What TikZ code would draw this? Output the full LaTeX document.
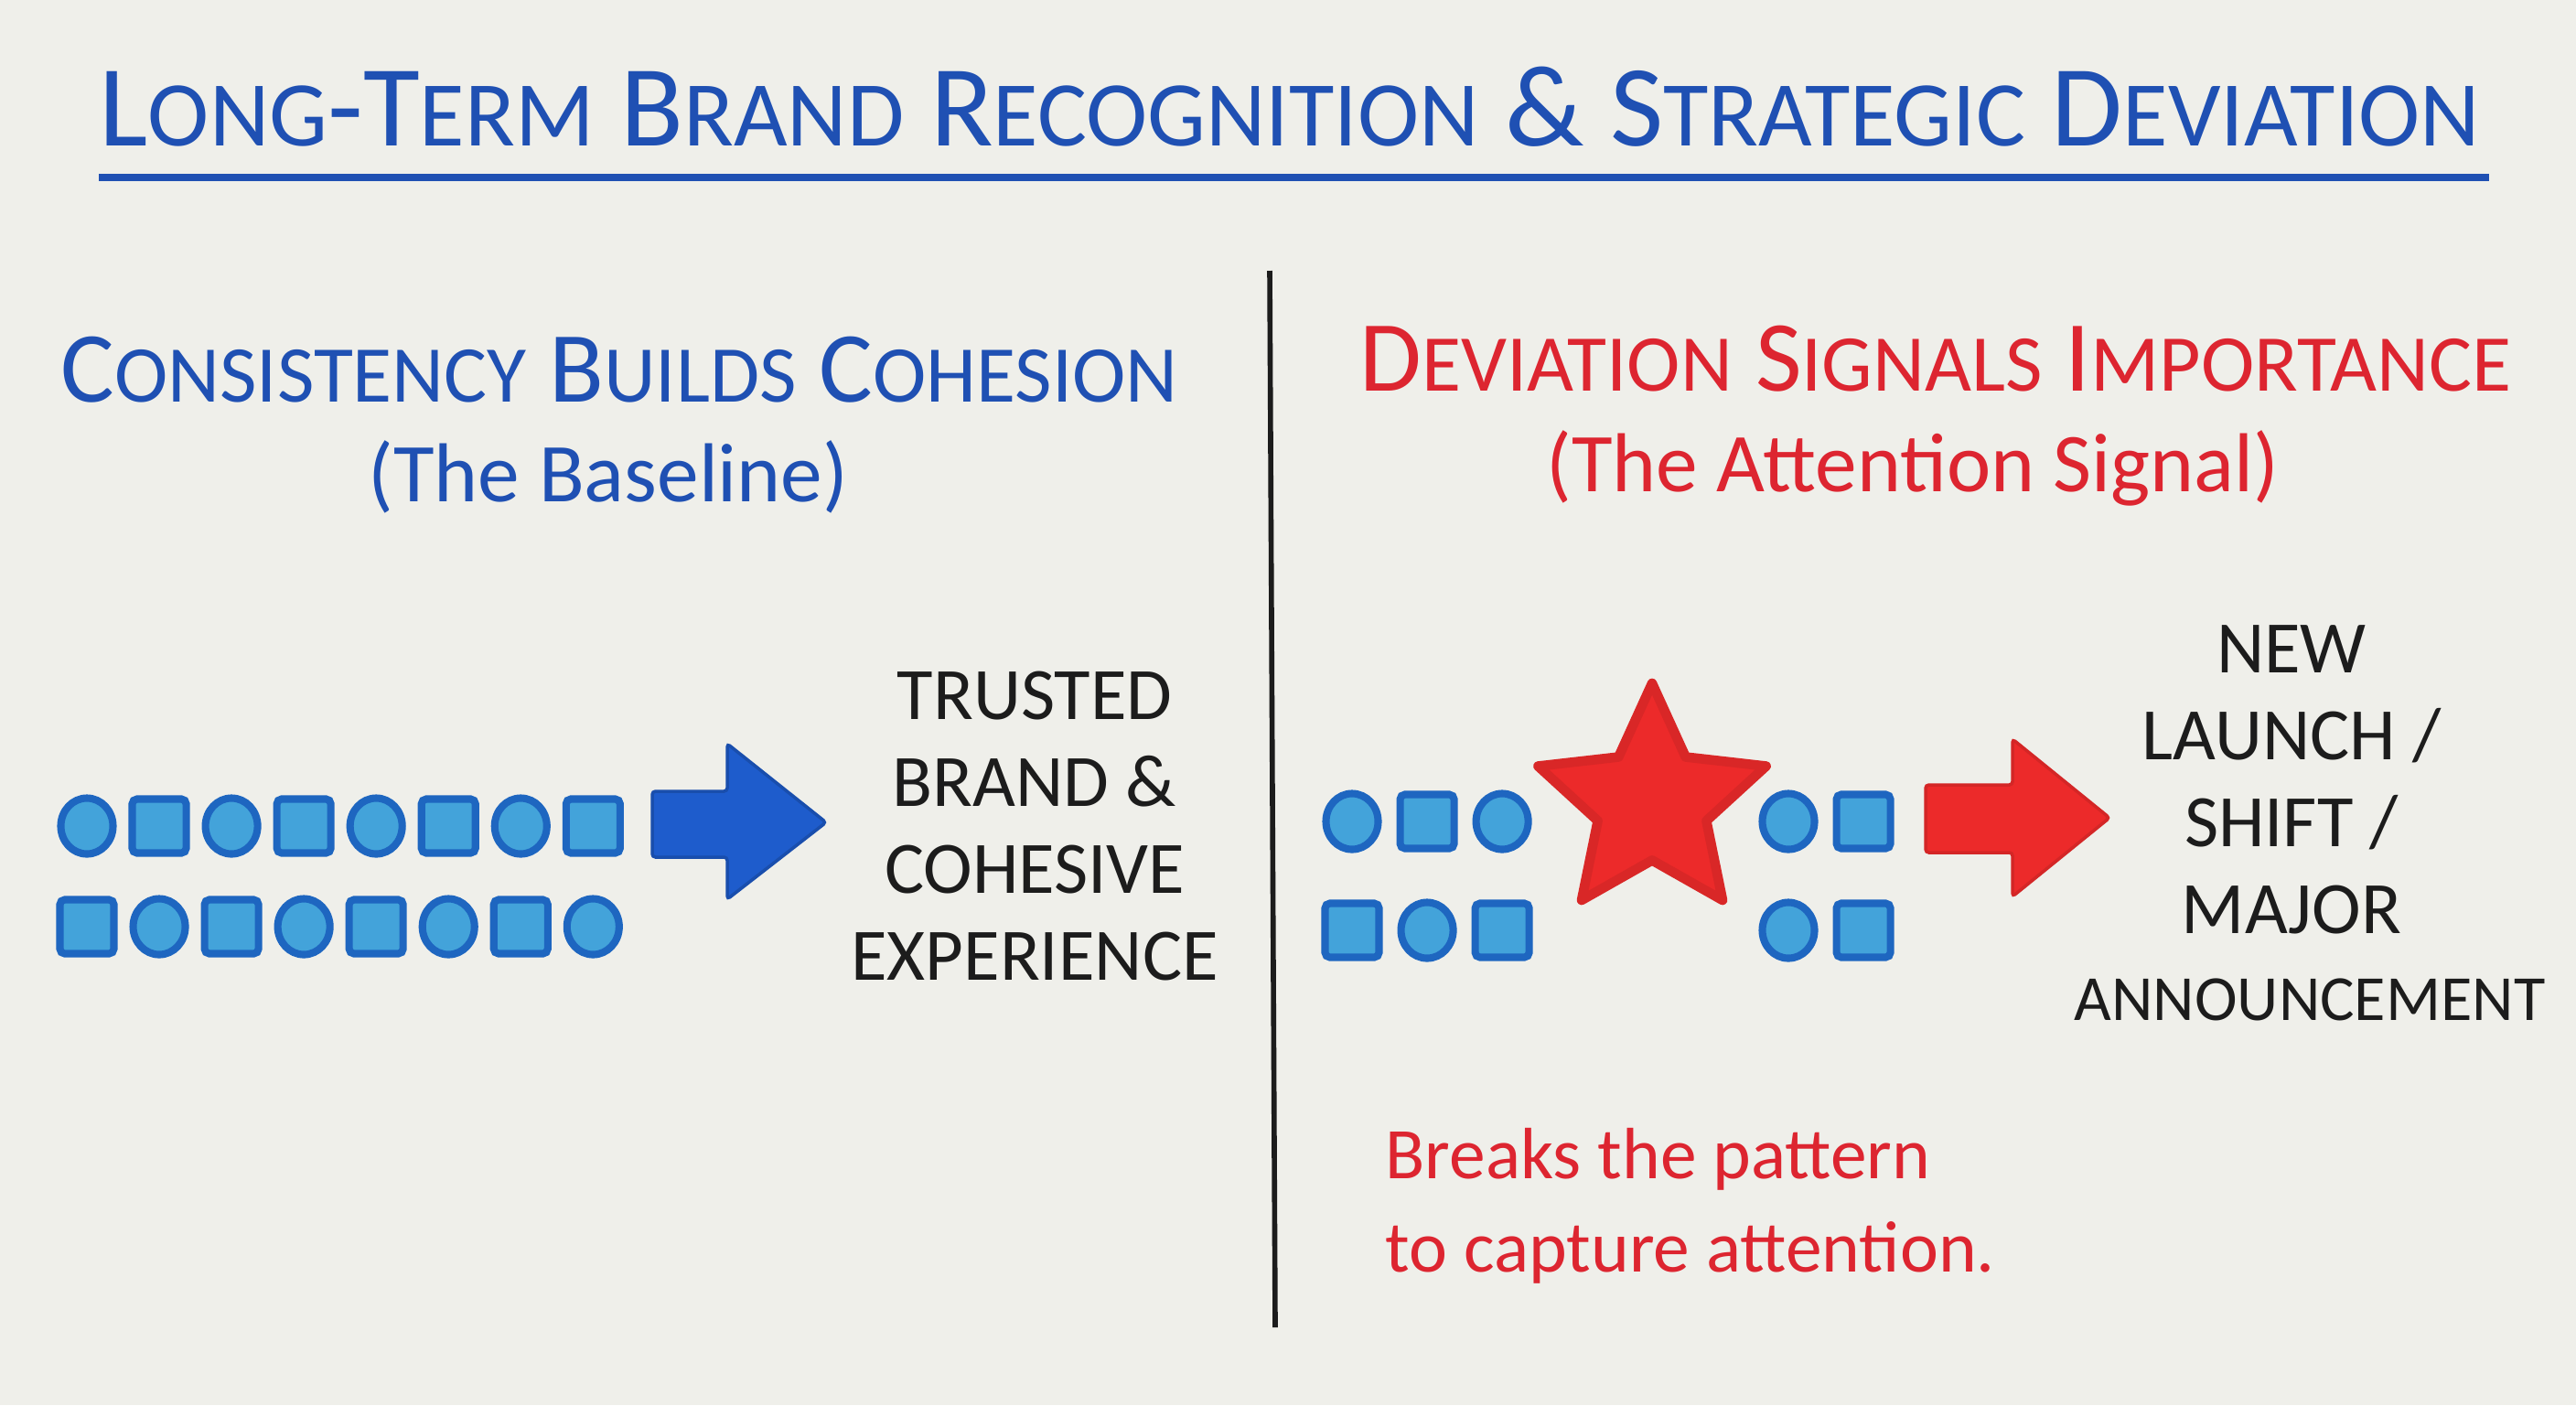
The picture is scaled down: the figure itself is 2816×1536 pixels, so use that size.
\documentclass[tikz,border=0pt]{standalone}
\usepackage{fontspec}
\usepackage{graphicx}
\setmainfont{Carlito}
\usetikzlibrary{shapes.geometric}

\definecolor{paper}{HTML}{EFEFEA}
\definecolor{inkblue}{HTML}{1F50B3}
\definecolor{markblue}{HTML}{1E66C0}
\definecolor{fillblue}{HTML}{43A3DA}
\definecolor{arrowblue}{HTML}{1E5CCC}
\definecolor{inkred}{HTML}{DD2530}
\definecolor{starred}{HTML}{EC2A2A}
\definecolor{ink}{HTML}{1C1C1C}

\newcommand{\sml}[1]{\scalebox{0.8}{#1}}

\begin{document}
\begin{tikzpicture}[x=0.01cm, y=-0.01cm, node distance=0.79cm]
        \tikzstyle{dot}=[ellipse, draw=markblue, fill=fillblue, line width=2.3pt, minimum width=0.57cm, minimum height=0.61cm, inner sep=0];
        \tikzstyle{box}=[rectangle, rounded corners=1.5pt, draw=markblue, fill=fillblue, line width=2.3pt, minimum size=0.59cm, inner sep=0];
        \tikzstyle{head}=[font=\fontsize{31.3pt}{36pt}\selectfont, inner sep=0];
        \tikzstyle{sub}=[font=\fontsize{26pt}{30pt}\selectfont, inner sep=0];
        \tikzstyle{result}=[font=\fontsize{23pt}{27pt}\selectfont, text=ink, align=center, inner sep=0];

        \fill[paper] (0,0) rectangle (2816,1536);

        % title
        \node[font=\fontsize{36pt}{42pt}\selectfont, text=inkblue, inner sep=0] (title) at (1410,117)
            {L\sml{ONG}-T\sml{ERM} B\sml{RAND} R\sml{ECOGNITION} \& S\sml{TRATEGIC} D\sml{EVIATION}};
        \draw[inkblue, line width=2pt] (108,194) -- (2721,194);

        % divider
        \draw[ink, line width=1.6pt] (1388,296) -- (1394,1451);

        % left side
        \node[head, text=inkblue] (cons) at (677,404) {C\sml{ONSISTENCY} B\sml{UILDS} C\sml{OHESION}};
        \node[sub, text=inkblue] (base) at (665,521) {(The Baseline)};

        \node[dot] (a1) at (95,903) {};
        \node[box, right of=a1] (a2) {};
        \node[dot, right of=a2] (a3) {};
        \node[box, right of=a3] (a4) {};
        \node[dot, right of=a4] (a5) {};
        \node[box, right of=a5] (a6) {};
        \node[dot, right of=a6] (a7) {};
        \node[box, right of=a7] (a8) {};

        \node[box] (b1) at (95,1013) {};
        \node[dot, right of=b1] (b2) {};
        \node[box, right of=b2] (b3) {};
        \node[dot, right of=b3] (b4) {};
        \node[box, right of=b4] (b5) {};
        \node[dot, right of=b5] (b6) {};
        \node[box, right of=b6] (b7) {};
        \node[dot, right of=b7] (b8) {};

        \filldraw[fill=arrowblue, draw=arrowblue!85!black, line width=1pt, rounded corners=1pt]
            (713,865) -- (795,865) -- (795,813) -- (903,899) -- (795,983) -- (795,937) -- (713,937) -- cycle;

        \node[result] (trust) at (1131,903) {TRUSTED\\BRAND \&\\COHESIVE\\EXPERIENCE};

        % right side
        \node[head, text=inkred] (dev) at (2116,392) {D\sml{EVIATION} S\sml{IGNALS} I\sml{MPORTANCE}};
        \node[sub, text=inkred] (attn) at (2091,512) {(The Attention Signal)};

        \node[dot] (c1) at (1478,898) {};
        \node[box, right of=c1, node distance=0.82cm] (c2) {};
        \node[dot, right of=c2, node distance=0.82cm] (c3) {};
        \node[box] (d1) at (1478,1017) {};
        \node[dot, right of=d1, node distance=0.82cm] (d2) {};
        \node[box, right of=d2, node distance=0.82cm] (d3) {};

        \node[star, star points=5, star point ratio=2.1, minimum size=2.62cm, inner sep=0,
              fill=starred, draw=starred!92!black, line width=3pt, line join=round] (star) at (1806,878) {};

        \node[dot] (e1) at (1955,898) {};
        \node[box, right of=e1, node distance=0.82cm] (e2) {};
        \node[dot] (f1) at (1955,1017) {};
        \node[box, right of=f1, node distance=0.82cm] (f2) {};

        \filldraw[fill=starred, draw=starred!90!black, line width=1pt, rounded corners=1pt]
            (2105,858) -- (2200,858) -- (2200,808) -- (2306,894) -- (2200,980) -- (2200,932) -- (2105,932) -- cycle;

        \node[result] (launch) at (2505,900) {NEW\\LAUNCH /\\SHIFT /\\MAJOR\\{\fontsize{20pt}{27pt}\selectfont\hspace{0.4cm}ANNOUNCEMENT}};

        \node[font=\fontsize{22.6pt}{29pt}\selectfont, text=inkred, align=left, anchor=west, inner sep=0] (note) at (1514,1318)
            {Breaks the pattern\\to capture attention.};
\end{tikzpicture}
\end{document}
